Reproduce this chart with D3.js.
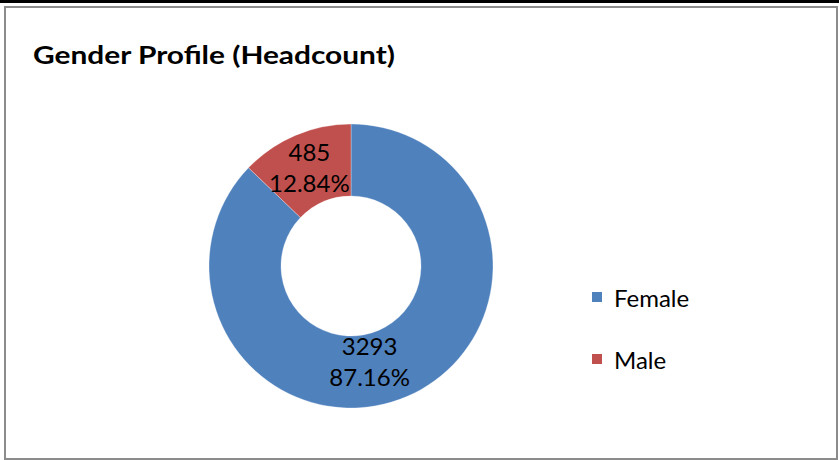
<!DOCTYPE html>
<html>
<head>
<meta charset="utf-8">
<script src="https://cdn.jsdelivr.net/npm/d3@7"></script>
<style>
  html, body { margin: 0; padding: 0; background: #fff; }
  svg { display: block; }
</style>
</head>
<body>
<svg id="chart" width="839" height="460"></svg>
<script>
const title = "Gender Profile (Headcount)";
const categories = ["Female", "Male"];
const values = [3293, 485];
const percentLabels = ["87.16%", "12.84%"];
const colors = ["#4F81BD", "#C0504D"];

const svg = d3.select("#chart");
const W = 839, H = 460;

// frame
svg.append("rect").attr("x", 0).attr("y", 0).attr("width", W).attr("height", H).attr("fill", "#fff");
svg.append("rect").attr("x", 0).attr("y", 0).attr("width", W).attr("height", 3).attr("fill", "#000");
svg.append("rect")
  .attr("x", 5).attr("y", 7).attr("width", 832).attr("height", 452)
  .attr("fill", "none").attr("stroke", "#8c8c8c").attr("stroke-width", 2);

// title
svg.append("text")
  .attr("x", 33).attr("y", 64)
  .attr("font-family", "Lato, 'Open Sans', sans-serif")
  .attr("font-weight", "bold")
  .attr("font-size", 24.5)
  .attr("textLength", 362).attr("lengthAdjust", "spacingAndGlyphs")
  .attr("fill", "#000")
  .text(title);

// donut
const cx = 351, cy = 266, rOuter = 142, rInner = 70;
const pie = d3.pie().sort(null).value(d => d.value);
const data = categories.map((c, i) => ({ cat: c, value: values[i], pct: percentLabels[i], color: colors[i] }));
const arcs = pie(data);
const arc = d3.arc().innerRadius(rInner).outerRadius(rOuter);

const g = svg.append("g").attr("transform", `translate(${cx},${cy})`);
g.selectAll("path.slice").data(arcs).join("path")
  .attr("class", "slice")
  .attr("d", arc)
  .attr("fill", d => d.data.color)
  .attr("stroke", "rgba(255,255,255,0.5)")
  .attr("stroke-width", 0.6);

// data labels
const labelFont = "Lato, 'Open Sans', sans-serif";
arcs.forEach((a, i) => {
  const [x0, y0] = arc.centroid(a);
  // Excel nudges the large-slice label toward the bottom center
  const x = i === 0 ? x0 - 23 : x0;
  const y = y0;
  const t = g.append("text")
    .attr("text-anchor", "middle")
    .attr("font-family", labelFont)
    .attr("font-size", 24)
    .attr("fill", "#000");
  t.append("tspan").attr("x", x).attr("y", y - 8).text(a.data.value);
  t.append("tspan").attr("x", x).attr("y", y + 23).text(a.data.pct);
});

// legend
const lg = svg.append("g").attr("transform", "translate(592,292)");
const items = lg.selectAll("g.item").data(data).join("g")
  .attr("class", "item")
  .attr("transform", (d, i) => `translate(0,${i * 62})`);
items.append("rect")
  .attr("x", 0).attr("y", 0).attr("width", 10).attr("height", 10)
  .attr("fill", d => d.color);
items.append("text")
  .attr("x", 22).attr("y", 15)
  .attr("font-family", labelFont)
  .attr("font-size", 24)
  .attr("fill", "#000")
  .text(d => d.cat);
</script>
</body>
</html>
